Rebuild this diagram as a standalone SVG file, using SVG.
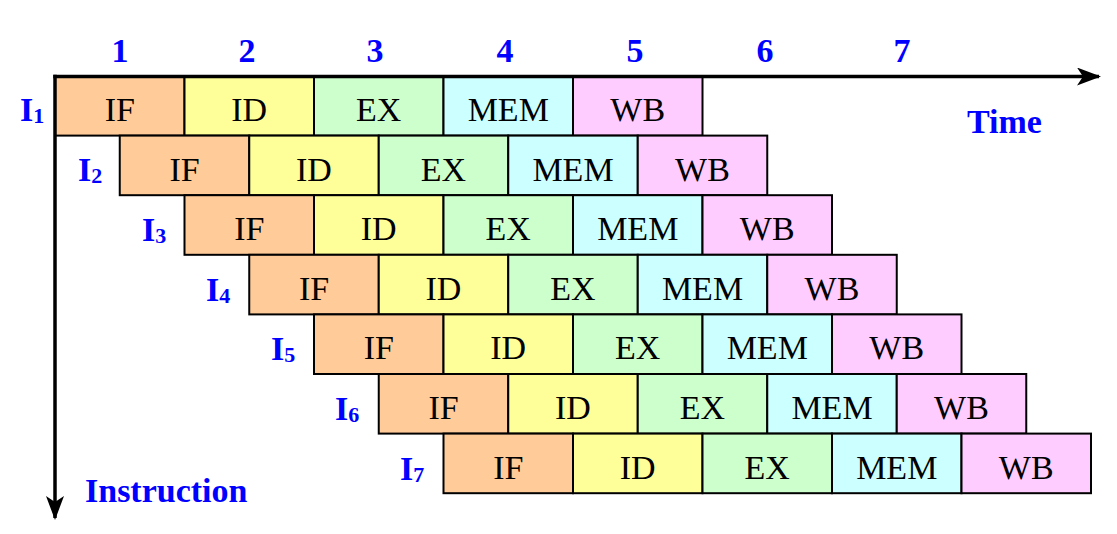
<svg xmlns="http://www.w3.org/2000/svg" width="1117" height="534" viewBox="0 0 1117 534">
<style>
rect{stroke:#000;stroke-width:2}
.if{fill:#FFCC99}.id{fill:#FFFF99}.ex{fill:#CCFFCC}.mem{fill:#CCFFFF}.wb{fill:#FFCCFF}
.t{font-family:"Liberation Serif","Times New Roman",serif;font-size:34px;fill:#000;text-anchor:middle}
.b{font-family:"Liberation Serif","Times New Roman",serif;font-weight:bold;fill:#0000FF}
.n{font-size:34px;text-anchor:middle}
.lab{font-size:34px;text-anchor:end}
.sub{font-size:22px}
.ax{stroke:#000;stroke-width:3.5;fill:none}
</style>
<defs>
<marker id="ah" viewBox="0 0 24 18" refX="22" refY="9" markerWidth="24" markerHeight="18" markerUnits="userSpaceOnUse" orient="auto">
<path d="M0,0 L24,9 L0,18 L6,9 Z" fill="#000"/>
</marker>
</defs>
<g id="time-numbers">
<text class="b n" x="120" y="62">1</text>
<text class="b n" x="247" y="62">2</text>
<text class="b n" x="375" y="62">3</text>
<text class="b n" x="505" y="62">4</text>
<text class="b n" x="635" y="62">5</text>
<text class="b n" x="765" y="62">6</text>
<text class="b n" x="902" y="62">7</text>
</g>
<g id="row1">
<g id="i1-if"><rect class="if" x="55" y="76" width="129.5" height="59.6"/><text class="t" x="119.75" y="121">IF</text></g>
<g id="i1-id"><rect class="id" x="184.5" y="76" width="129.5" height="59.6"/><text class="t" x="249.25" y="121">ID</text></g>
<g id="i1-ex"><rect class="ex" x="314" y="76" width="129.5" height="59.6"/><text class="t" x="378.75" y="121">EX</text></g>
<g id="i1-mem"><rect class="mem" x="443.5" y="76" width="129.5" height="59.6"/><text class="t" x="508.25" y="121">MEM</text></g>
<g id="i1-wb"><rect class="wb" x="573" y="76" width="129.5" height="59.6"/><text class="t" x="637.75" y="121">WB</text></g>
</g>
<g id="row2">
<g id="i2-if"><rect class="if" x="119.75" y="135.6" width="129.5" height="59.6"/><text class="t" x="184.5" y="180.6">IF</text></g>
<g id="i2-id"><rect class="id" x="249.25" y="135.6" width="129.5" height="59.6"/><text class="t" x="314" y="180.6">ID</text></g>
<g id="i2-ex"><rect class="ex" x="378.75" y="135.6" width="129.5" height="59.6"/><text class="t" x="443.5" y="180.6">EX</text></g>
<g id="i2-mem"><rect class="mem" x="508.25" y="135.6" width="129.5" height="59.6"/><text class="t" x="573" y="180.6">MEM</text></g>
<g id="i2-wb"><rect class="wb" x="637.75" y="135.6" width="129.5" height="59.6"/><text class="t" x="702.5" y="180.6">WB</text></g>
</g>
<g id="row3">
<g id="i3-if"><rect class="if" x="184.5" y="195.2" width="129.5" height="59.6"/><text class="t" x="249.25" y="240.2">IF</text></g>
<g id="i3-id"><rect class="id" x="314" y="195.2" width="129.5" height="59.6"/><text class="t" x="378.75" y="240.2">ID</text></g>
<g id="i3-ex"><rect class="ex" x="443.5" y="195.2" width="129.5" height="59.6"/><text class="t" x="508.25" y="240.2">EX</text></g>
<g id="i3-mem"><rect class="mem" x="573" y="195.2" width="129.5" height="59.6"/><text class="t" x="637.75" y="240.2">MEM</text></g>
<g id="i3-wb"><rect class="wb" x="702.5" y="195.2" width="129.5" height="59.6"/><text class="t" x="767.25" y="240.2">WB</text></g>
</g>
<g id="row4">
<g id="i4-if"><rect class="if" x="249.25" y="254.8" width="129.5" height="59.6"/><text class="t" x="314" y="299.8">IF</text></g>
<g id="i4-id"><rect class="id" x="378.75" y="254.8" width="129.5" height="59.6"/><text class="t" x="443.5" y="299.8">ID</text></g>
<g id="i4-ex"><rect class="ex" x="508.25" y="254.8" width="129.5" height="59.6"/><text class="t" x="573" y="299.8">EX</text></g>
<g id="i4-mem"><rect class="mem" x="637.75" y="254.8" width="129.5" height="59.6"/><text class="t" x="702.5" y="299.8">MEM</text></g>
<g id="i4-wb"><rect class="wb" x="767.25" y="254.8" width="129.5" height="59.6"/><text class="t" x="832" y="299.8">WB</text></g>
</g>
<g id="row5">
<g id="i5-if"><rect class="if" x="314" y="314.4" width="129.5" height="59.6"/><text class="t" x="378.75" y="359.4">IF</text></g>
<g id="i5-id"><rect class="id" x="443.5" y="314.4" width="129.5" height="59.6"/><text class="t" x="508.25" y="359.4">ID</text></g>
<g id="i5-ex"><rect class="ex" x="573" y="314.4" width="129.5" height="59.6"/><text class="t" x="637.75" y="359.4">EX</text></g>
<g id="i5-mem"><rect class="mem" x="702.5" y="314.4" width="129.5" height="59.6"/><text class="t" x="767.25" y="359.4">MEM</text></g>
<g id="i5-wb"><rect class="wb" x="832" y="314.4" width="129.5" height="59.6"/><text class="t" x="896.75" y="359.4">WB</text></g>
</g>
<g id="row6">
<g id="i6-if"><rect class="if" x="378.75" y="374" width="129.5" height="59.6"/><text class="t" x="443.5" y="419">IF</text></g>
<g id="i6-id"><rect class="id" x="508.25" y="374" width="129.5" height="59.6"/><text class="t" x="573" y="419">ID</text></g>
<g id="i6-ex"><rect class="ex" x="637.75" y="374" width="129.5" height="59.6"/><text class="t" x="702.5" y="419">EX</text></g>
<g id="i6-mem"><rect class="mem" x="767.25" y="374" width="129.5" height="59.6"/><text class="t" x="832" y="419">MEM</text></g>
<g id="i6-wb"><rect class="wb" x="896.75" y="374" width="129.5" height="59.6"/><text class="t" x="961.5" y="419">WB</text></g>
</g>
<g id="row7">
<g id="i7-if"><rect class="if" x="443.5" y="433.6" width="129.5" height="59.6"/><text class="t" x="508.25" y="478.6">IF</text></g>
<g id="i7-id"><rect class="id" x="573" y="433.6" width="129.5" height="59.6"/><text class="t" x="637.75" y="478.6">ID</text></g>
<g id="i7-ex"><rect class="ex" x="702.5" y="433.6" width="129.5" height="59.6"/><text class="t" x="767.25" y="478.6">EX</text></g>
<g id="i7-mem"><rect class="mem" x="832" y="433.6" width="129.5" height="59.6"/><text class="t" x="896.75" y="478.6">MEM</text></g>
<g id="i7-wb"><rect class="wb" x="961.5" y="433.6" width="129.5" height="59.6"/><text class="t" x="1026.25" y="478.6">WB</text></g>
</g>
<g id="labels">
<text class="b" x="20" y="121" font-size="34">I<tspan class="sub" dy="2">1</tspan></text>
<text class="b" x="78" y="181" font-size="34">I<tspan class="sub" dy="2">2</tspan></text>
<text class="b" x="142" y="241" font-size="34">I<tspan class="sub" dy="2">3</tspan></text>
<text class="b" x="206" y="301" font-size="34">I<tspan class="sub" dy="2">4</tspan></text>
<text class="b" x="271" y="360" font-size="34">I<tspan class="sub" dy="2">5</tspan></text>
<text class="b" x="335" y="420" font-size="34">I<tspan class="sub" dy="2">6</tspan></text>
<text class="b" x="400" y="480" font-size="34">I<tspan class="sub" dy="2">7</tspan></text>
<text class="b" x="967" y="133" font-size="34">Time</text>
<text class="b" x="85" y="502" font-size="34">Instruction</text>
</g>
<g id="connectors">
<line class="ax" x1="53.3" y1="76.5" x2="1099" y2="76.5" marker-end="url(#ah)"/>
<line class="ax" x1="55" y1="74.8" x2="55" y2="518" marker-end="url(#ah)"/>
</g>
</svg>
